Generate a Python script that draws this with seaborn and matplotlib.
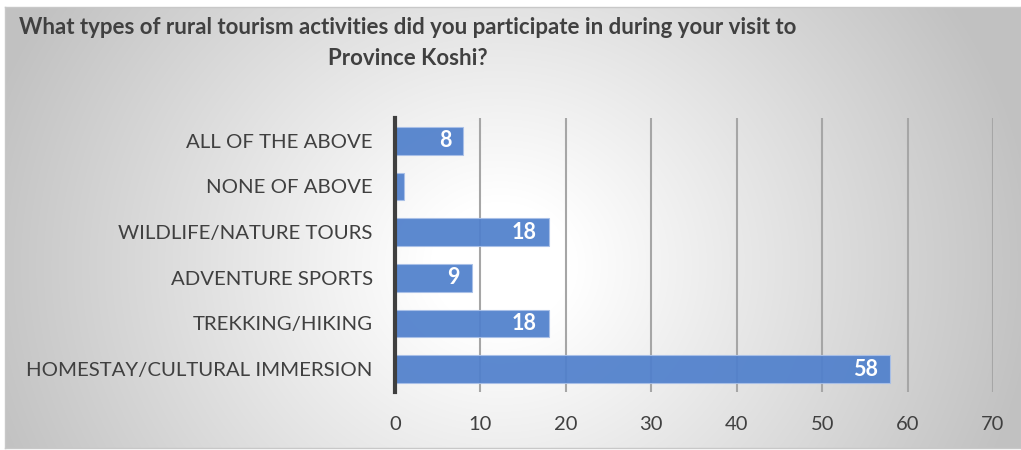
import numpy as np
import pandas as pd
import matplotlib
matplotlib.use("Agg")
import matplotlib.pyplot as plt
import seaborn as sns

# --- data (top to bottom as shown) ---
activities = ["ALL OF THE ABOVE", "NONE OF ABOVE", "WILDLIFE/NATURE TOURS",
              "ADVENTURE SPORTS", "TREKKING/HIKING", "HOMESTAY/CULTURAL IMMERSION"]
counts = [8, 1, 18, 9, 18, 58]
shown_labels = ["8", "", "18", "9", "18", "58"]
x_ticks = [0, 10, 20, 30, 40, 50, 60, 70]

title = ("What types of rural tourism activities did you participate in during your visit to\n"
         "Province Koshi?")

df = pd.DataFrame({"Activity": activities, "Count": counts})

sns.set_theme(style="white")
plt.rcParams["font.family"] = ["Lato", "DejaVu Sans"]

W, H = 1021, 450
fig = plt.figure(figsize=(W / 100, H / 100), dpi=100)
fig.patch.set_facecolor("white")

# radial grey-to-white background, like the Excel chart area
bg = fig.add_axes([5 / W, 2 / H, 1016 / W, 441 / H], zorder=0)
xx, yy = np.meshgrid(np.arange(5, 1021), np.arange(7, 448))
d = np.hypot(xx - 500, (yy - 265) * 1.1)
t = np.clip((d - 70) / 470, 0, 1)
shade = 255 - 62 * t
img = np.dstack([shade, shade, shade]) / 255
bg.imshow(img, aspect="auto", interpolation="bilinear")
bg.set_xticks([])
bg.set_yticks([])
for s in bg.spines.values():
    s.set_color("#c8c8c8")
    s.set_linewidth(1)

# plot area
ax = fig.add_axes([395 / W, (H - 392) / H, (993 - 395) / W, (392 - 118) / H], zorder=1)
ax.patch.set_alpha(0)
sns.barplot(data=df, y="Activity", x="Count", order=activities, orient="h",
            color="#5080cc", alpha=0.93, saturation=1, width=0.6,
            edgecolor="#a9c0e8", linewidth=0.8, ax=ax, zorder=3)

ax.set_xlim(0, 70)
ax.set_ylim(5.5, -0.5)
ax.set_xticks(x_ticks)
ax.set_xlabel("")
ax.set_ylabel("")
ax.grid(axis="x", color="#a6a6a6", linewidth=1.5, zorder=0)
ax.grid(axis="y", visible=False)
ax.set_axisbelow(True)
for s in ["top", "right", "bottom"]:
    ax.spines[s].set_visible(False)
ax.spines["left"].set_color("#3f3f3f")
ax.spines["left"].set_linewidth(3)
ax.spines["left"].set_zorder(5)
ax.tick_params(axis="y", length=0, pad=16, labelsize=14.7, labelcolor="#404040")
ax.tick_params(axis="x", length=0, pad=17, labelsize=14.5, labelcolor="#404040")

for i, (v, lab) in enumerate(zip(counts, shown_labels)):
    if lab:
        ax.text(v - 1.4, i, lab, ha="right", va="center", color="white",
                fontsize=15.5, fontweight="bold", zorder=6)

fig.text(408 / W, 1 - 43 / H, title, ha="center", va="center", multialignment="center",
         fontsize=16, fontweight="bold", color="#404040", linespacing=1.55)

fig.savefig("out.png", dpi=100)
